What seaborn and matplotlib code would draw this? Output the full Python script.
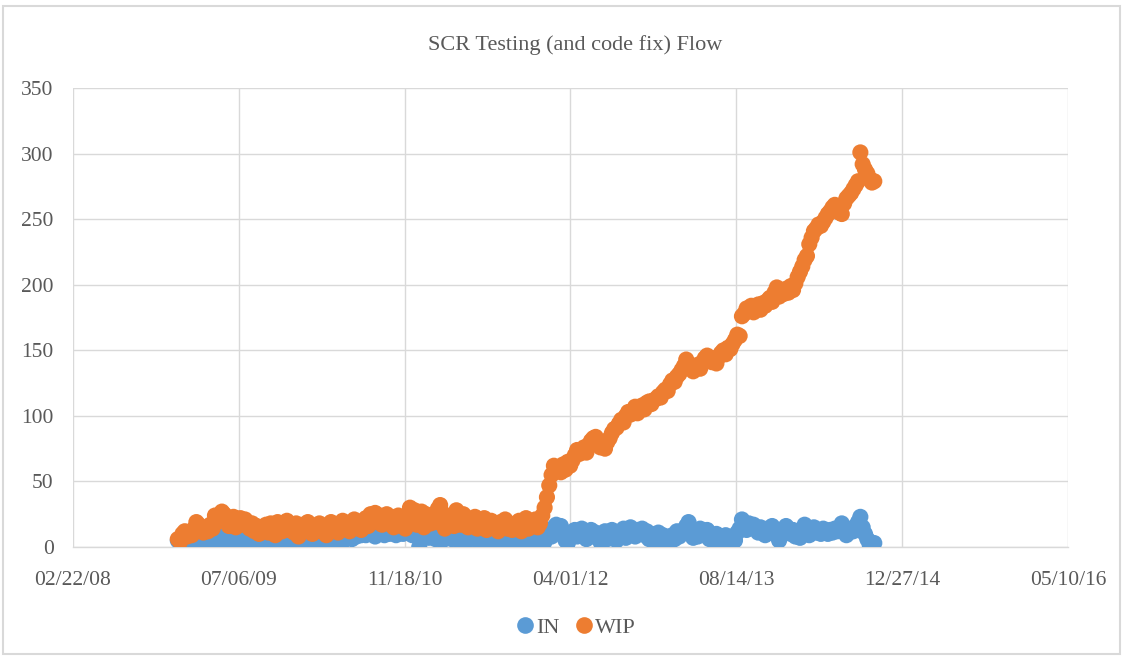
import numpy as np
import pandas as pd
import matplotlib
matplotlib.use("Agg")
import matplotlib.pyplot as plt
import matplotlib.dates as mdates
from matplotlib.patches import Rectangle
import seaborn as sns

# Weekly snapshots of the SCR testing (and code fix) stage
start_date = "2009-01-03"

wip = [
    6, 4, 10, 12, 8, 11, 9, 14, 19, 17,
    13, 11, 15, 12, 17, 14, 24, 19, 22, 27,
    25, 21, 16, 18, 23, 15, 20, 22, 17, 21,
    19, 14, 18, 12, 16, 10, 15, 13, 17, 11,
    18, 15, 9, 19, 14, 12, 17, 20, 13, 16,
    11, 18, 8, 14, 17, 12, 19, 15, 10, 16,
    14, 18, 12, 16, 9, 15, 19, 13, 17, 11,
    16, 20, 14, 18, 12, 17, 21, 15, 19, 13,
    18, 22, 16, 25, 20, 26, 19, 24, 17, 22,
    25, 18, 23, 15, 21, 24, 19, 22, 14, 20,
    30, 24, 28, 17, 22, 27, 15, 25, 20, 18,
    24, 19, 29, 32, 26, 14, 21, 18, 23, 16,
    28, 22, 17, 25, 20, 15, 21, 18, 23, 14,
    19, 16, 22, 13, 18, 20, 15, 17, 12, 19,
    16, 21, 14, 18, 13, 17, 15, 20, 12, 16,
    22, 14, 19, 16, 21, 15, 18, 24, 30, 38,
    47, 55, 62, 58, 60, 57, 63, 59, 65, 62,
    66, 70, 74, 71, 73, 76, 72, 78, 81, 83,
    84, 80, 76, 78, 75, 80, 83, 87, 90, 91,
    94, 97, 95, 100, 103, 101, 104, 107, 102, 106,
    108, 105, 110, 111, 109, 112, 113, 115, 114, 118,
    120, 119, 124, 127, 126, 130, 132, 135, 138, 143,
    140, 136, 134, 137, 139, 136, 141, 144, 146, 143,
    141, 144, 140, 145, 148, 150, 147, 152, 151, 155,
    158, 162, 161, 176, 178, 182, 180, 184, 179, 183,
    185, 181, 186, 184, 188, 190, 187, 194, 198, 191,
    195, 193, 197, 194, 199, 196, 201, 206, 210, 214,
    219, 222, 231, 236, 241, 243, 246, 245, 248, 251,
    254, 256, 259, 261, 258, 255, 254, 262, 266, 268,
    270, 273, 276, 279, 301, 292, 288, 285, 281, 278, 279,
]

arrivals = [
    5, 3, 6, 4, 7, 5, 3, 6, 8, 4,
    6, 5, 8, 4, 7, 9, 5, 3, 6, 8,
    5, 7, 4, 6, 9, 5, 8, 3, 6, 7,
    5, 4, 7, 6, 3, 8, 5, 4, 6, 7,
    4, 6, 5, 8, 3, 7, 5, 6, 4, 7,
    5, 8, 0, 4, 6, 7, 3, 5, 8, 6,
    4, 7, 5, 3, 6, 8, 4, 6, 5, 7,
    6, 4, 8, 7, 9, 6, 10, 8, 11, 9,
    12, 9, 11, 13, 10, 8, 12, 14, 11, 9,
    12, 10, 13, 11, 9, 12, 14, 10, 13, 11,
    12, 9, 13, 10, 0, 11, 8, 10, 7, 12,
    9, 6, 11, 8, 5, 10, 7, 12, 6, 9,
    8, 5, 10, 7, 4, 9, 6, 11, 8, 5,
    7, 10, 4, 2, 8, 6, 9, 5, 7, 10,
    6, 8, 4, 9, 5, 7, 3, 8, 6, 4,
    7, 2, 5, 9, 3, 6, 0, 8, 4, 10,
    12, 8, 15, 17, 14, 16, 9, 5, 3, 7,
    10, 13, 8, 12, 14, 9, 6, 11, 13, 8,
    11, 7, 4, 9, 12, 6, 10, 13, 8, 5,
    9, 11, 14, 7, 12, 15, 10, 8, 13, 11,
    14, 9, 12, 6, 10, 8, 5, 11, 7, 9,
    4, 7, 3, 9, 6, 12, 8, 10, 13, 16,
    19, 12, 7, 10, 8, 14, 11, 9, 13, 6,
    8, 5, 10, 4, 7, 3, 9, 6, 2, 8,
    5, 11, 14, 21, 16, 13, 18, 15, 17, 14,
    11, 15, 13, 9, 14, 12, 16, 10, 13, 5,
    9, 12, 16, 14, 10, 13, 8, 11, 7, 12,
    17, 14, 9, 12, 15, 11, 13, 10, 14, 12,
    10, 13, 11, 14, 12, 15, 18, 13, 9, 11,
    14, 12, 16, 19, 23, 15, 10, 6, 2, 0, 3,
]

series_names = ["IN", "WIP"]
series_colors = ["#5B9BD5", "#ED7D31"]
title = "SCR Testing (and code fix) Flow"
x_ticks = ["2008-02-22", "2009-07-06", "2010-11-18", "2012-04-01",
           "2013-08-14", "2014-12-27", "2016-05-10"]
y_ticks = [0, 50, 100, 150, 200, 250, 300, 350]

dates = pd.date_range(start_date, periods=len(wip), freq="7D")
df = pd.concat([
    pd.DataFrame({"date": dates, "value": arrivals, "series": "IN"}),
    pd.DataFrame({"date": dates, "value": wip, "series": "WIP"}),
], ignore_index=True)

sns.set_theme(style="white")
plt.rcParams["font.family"] = ["Liberation Serif", "DejaVu Serif"]
text_color = "#595959"
grid_color = "#D9D9D9"

fig = plt.figure(figsize=(11.23, 6.58), dpi=100)
ax = fig.add_axes([0.065, 0.1687, 0.886, 0.6973])

sns.scatterplot(data=df, x="date", y="value", hue="series",
                hue_order=series_names, palette=series_colors,
                s=135, linewidth=0, edgecolor="none", legend=False, ax=ax,
                zorder=3)

xt = pd.to_datetime(x_ticks)
ax.set_xlim(xt[0], xt[-1])
ax.set_xticks(xt)
ax.xaxis.set_major_formatter(mdates.DateFormatter("%m/%d/%y"))
ax.set_ylim(y_ticks[0], y_ticks[-1])
ax.set_yticks(y_ticks)

ax.grid(True, color=grid_color, linewidth=1.0, zorder=0)
ax.set_axisbelow(True)
for side in ["top", "right", "left"]:
    ax.spines[side].set_visible(False)
ax.spines["bottom"].set_color(grid_color)
ax.spines["bottom"].set_linewidth(1.0)
ax.tick_params(axis="both", length=0, labelsize=15.5, colors=text_color)
ax.tick_params(axis="x", pad=17)
ax.tick_params(axis="y", pad=14)
ax.set_xlabel("")
ax.set_ylabel("")

fig.text(0.512, 0.932, title, ha="center", va="center",
         fontsize=16, color=text_color)

handles = [plt.Line2D([], [], marker="o", linestyle="", markersize=12,
                      markerfacecolor=c, markeredgecolor="none")
           for c in series_colors]
fig.legend(handles, series_names, loc="center", bbox_to_anchor=(0.512, 0.046),
           ncol=2, frameon=False, fontsize=16, handletextpad=0.0,
           columnspacing=0.6, handlelength=1.0, labelcolor=text_color)

# chart frame
fig.patches.append(Rectangle((0.003, 0.006), 0.994, 0.985, transform=fig.transFigure,
                             fill=False, edgecolor=grid_color, linewidth=1.5))

fig.savefig("out.png", dpi=100, facecolor="white")
